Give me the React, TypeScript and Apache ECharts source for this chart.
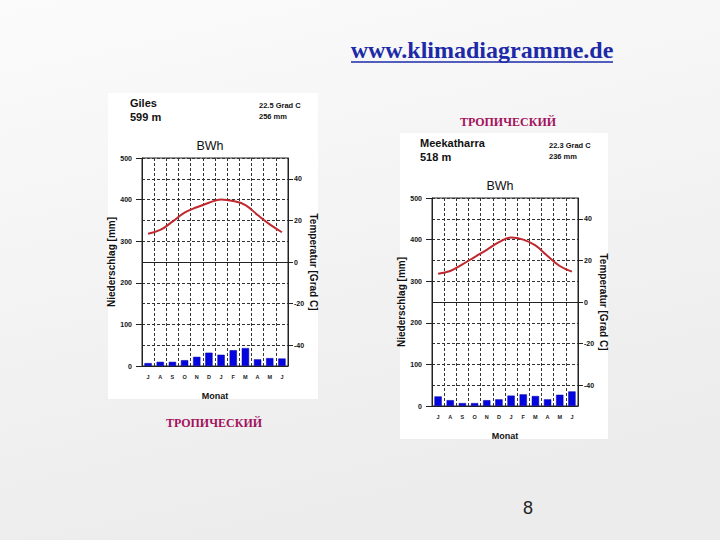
import React, { useEffect, useRef } from "react";
import * as echarts from "echarts";

const months = ["J", "A", "S", "O", "N", "D", "J", "F", "M", "A", "M", "J"];

const gilesPrecip = [7, 10, 10, 14, 22, 32, 27, 38, 43, 16, 19, 18];
const gilesTemp = [13.6, 15.4, 19.4, 23.7, 26.3, 28.5, 30.1, 29.3, 27.4, 22.6, 18.1, 14.3];

const meekaPrecip = [23, 14, 7, 7, 14, 16, 25, 28, 24, 16, 27, 35];
const meekaTemp = [13.6, 14.9, 18.1, 21.6, 25.1, 28.8, 31.0, 30.0, 27.2, 22.1, 17.3, 14.6];

const tempTicks = [-40, -20, 0, 20, 40];

const stations = [
  { name: "Giles", height: "599 m", meanT: "22.5 Grad C", sumP: "256 mm", zone: "BWh", precip: gilesPrecip, temp: gilesTemp },
  { name: "Meekatharra", height: "518 m", meanT: "22.3 Grad C", sumP: "236 mm", zone: "BWh", precip: meekaPrecip, temp: meekaTemp },
];

const layout = [
  { left: 142, top: 158, panel: { x: 108, y: 93, w: 210, h: 306 } },
  { left: 432, top: 198, panel: { x: 400, y: 133, w: 208, h: 306 } },
];

const GW = 146;
const GH = 208;
const FONT = "'Liberation Sans', Arial, sans-serif";
const SERIF = "'Liberation Serif', 'Times New Roman', serif";

export default function App() {
  const ref = useRef<HTMLDivElement>(null);
  useEffect(() => {
    if (!ref.current) return;
    const chart = echarts.init(ref.current, undefined, { renderer: "svg" });
    const grids: any[] = [];
    const xAxes: any[] = [];
    const yAxes: any[] = [];
    const series: any[] = [];
    const graphics: any[] = [];

    layout.forEach((l) => {
      graphics.push({
        type: "rect",
        z: -10,
        shape: { x: l.panel.x, y: l.panel.y, width: l.panel.w, height: l.panel.h },
        style: { fill: "#ffffff" },
      });
    });

    const gridLine = { color: "#333", type: [3, 2], width: 1 };

    stations.forEach((s, i) => {
      const l = layout[i];
      grids.push({
        left: l.left,
        top: l.top,
        width: GW,
        height: GH,
        show: true,
        borderColor: "#222",
        borderWidth: 1,
        backgroundColor: "transparent",
      });
      xAxes.push({
        type: "category",
        gridIndex: i,
        data: months,
        boundaryGap: true,
        axisLine: { show: true, lineStyle: { color: "#222", width: 1 } },
        axisTick: { show: false },
        axisLabel: { interval: 0, fontSize: 5.5, fontWeight: "bold", color: "#222", margin: 8, fontFamily: FONT },
        splitLine: { show: true, interval: 0, lineStyle: gridLine },
        name: "Monat",
        nameLocation: "middle",
        nameGap: 25,
        nameTextStyle: { fontSize: 9, fontWeight: "bold", color: "#111", fontFamily: FONT },
      });
      yAxes.push({
        type: "value",
        gridIndex: i,
        position: "left",
        min: 0,
        max: 500,
        interval: 100,
        axisLine: { show: true, lineStyle: { color: "#222", width: 1 } },
        axisTick: { show: true, length: 6, lineStyle: { color: "#222" } },
        axisLabel: { fontSize: 7, fontWeight: "bold", color: "#111", margin: 10, fontFamily: FONT },
        splitLine: { show: false },
        name: "Niederschlag [mm]",
        nameLocation: "middle",
        nameGap: 20,
        nameRotate: 90,
        nameTextStyle: { fontSize: 10, fontWeight: "bold", color: "#111", fontFamily: FONT },
      });
      yAxes.push({
        type: "value",
        gridIndex: i,
        position: "right",
        min: -50,
        max: 50,
        interval: 10,
        axisLine: { show: true, lineStyle: { color: "#222", width: 1 } },
        axisTick: { show: true, length: 5, customValues: tempTicks, lineStyle: { color: "#222" } },
        axisLabel: { customValues: tempTicks, fontSize: 7, fontWeight: "bold", color: "#111", margin: 6, fontFamily: FONT },
        splitLine: { show: false },
        name: "Temperatur [Grad C]",
        nameLocation: "middle",
        nameGap: 20,
        nameRotate: -90,
        nameTextStyle: { fontSize: 10, fontWeight: "bold", color: "#111", fontFamily: FONT },
      });
      // gridline helper axis (every 50 mm = every 10 °C)
      yAxes.push({
        type: "value",
        gridIndex: i,
        position: "left",
        min: 0,
        max: 500,
        interval: 50,
        axisLine: { show: false },
        axisTick: { show: false },
        axisLabel: { show: false },
        splitLine: { show: true, lineStyle: gridLine },
      });
      series.push({
        type: "bar",
        xAxisIndex: i,
        yAxisIndex: i * 3,
        data: s.precip,
        barWidth: "60%",
        itemStyle: { color: "#0505e0", borderColor: "#0000a0", borderWidth: 0.5 },
        z: 3,
      });
      series.push({
        type: "line",
        xAxisIndex: i,
        yAxisIndex: i * 3 + 1,
        data: s.temp,
        smooth: 0.4,
        showSymbol: false,
        lineStyle: { color: "#c0282e", width: 2 },
        z: 4,
        markLine: {
          silent: true,
          symbol: "none",
          label: { show: false },
          lineStyle: { color: "#222", type: "solid", width: 1 },
          data: [{ yAxis: 0 }],
        },
      });

      const dx = l.left - 142;
      const dy = l.top - 158;
      graphics.push(
        { type: "text", x: 130 + dx, y: 103 + dy, style: { text: s.name, font: `bold 11px ${FONT}`, fill: "#111", verticalAlign: "middle" } },
        { type: "text", x: 130 + dx, y: 117 + dy, style: { text: s.height, font: `bold 11px ${FONT}`, fill: "#111", verticalAlign: "middle" } },
        { type: "text", x: 259 + dx, y: 105 + dy, style: { text: s.meanT, font: `bold 7.5px ${FONT}`, fill: "#111", verticalAlign: "middle" } },
        { type: "text", x: 259 + dx, y: 116 + dy, style: { text: s.sumP, font: `bold 7.5px ${FONT}`, fill: "#111", verticalAlign: "middle" } },
        { type: "text", x: 210 + dx, y: 146 + dy, style: { text: s.zone, font: `12.5px ${FONT}`, fill: "#111", align: "center", verticalAlign: "middle" } }
      );
    });

    graphics.push(
      { type: "text", x: 482, y: 50, style: { text: "www.klimadiagramme.de", font: `bold 24px ${SERIF}`, fill: "#1d2aa8", align: "center", verticalAlign: "middle" } },
      { type: "line", shape: { x1: 351, y1: 62, x2: 613, y2: 62 }, style: { stroke: "#1d2aa8", lineWidth: 1.5 } },
      { type: "text", x: 508, y: 122, style: { text: "ТРОПИЧЕСКИЙ", font: `bold 12px ${SERIF}`, fill: "#a3125c", align: "center", verticalAlign: "middle" } },
      { type: "text", x: 214, y: 423, style: { text: "ТРОПИЧЕСКИЙ", font: `bold 12px ${SERIF}`, fill: "#a3125c", align: "center", verticalAlign: "middle" } },
      { type: "text", x: 528, y: 508, style: { text: "8", font: `18px ${FONT}`, fill: "#222", align: "center", verticalAlign: "middle" } }
    );

    chart.setOption({
      animation: false,
      backgroundColor: {
        type: "linear",
        x: 0,
        y: 0,
        x2: 0.3,
        y2: 1,
        colorStops: [
          { offset: 0, color: "#fbfbfb" },
          { offset: 1, color: "#ececec" },
        ],
      },
      grid: grids,
      xAxis: xAxes,
      yAxis: yAxes,
      series,
      graphic: graphics,
    });
    return () => chart.dispose();
  }, []);
  return <div ref={ref} style={{ position: "absolute", left: 0, top: 0, width: 720, height: 540 }} />;
}
